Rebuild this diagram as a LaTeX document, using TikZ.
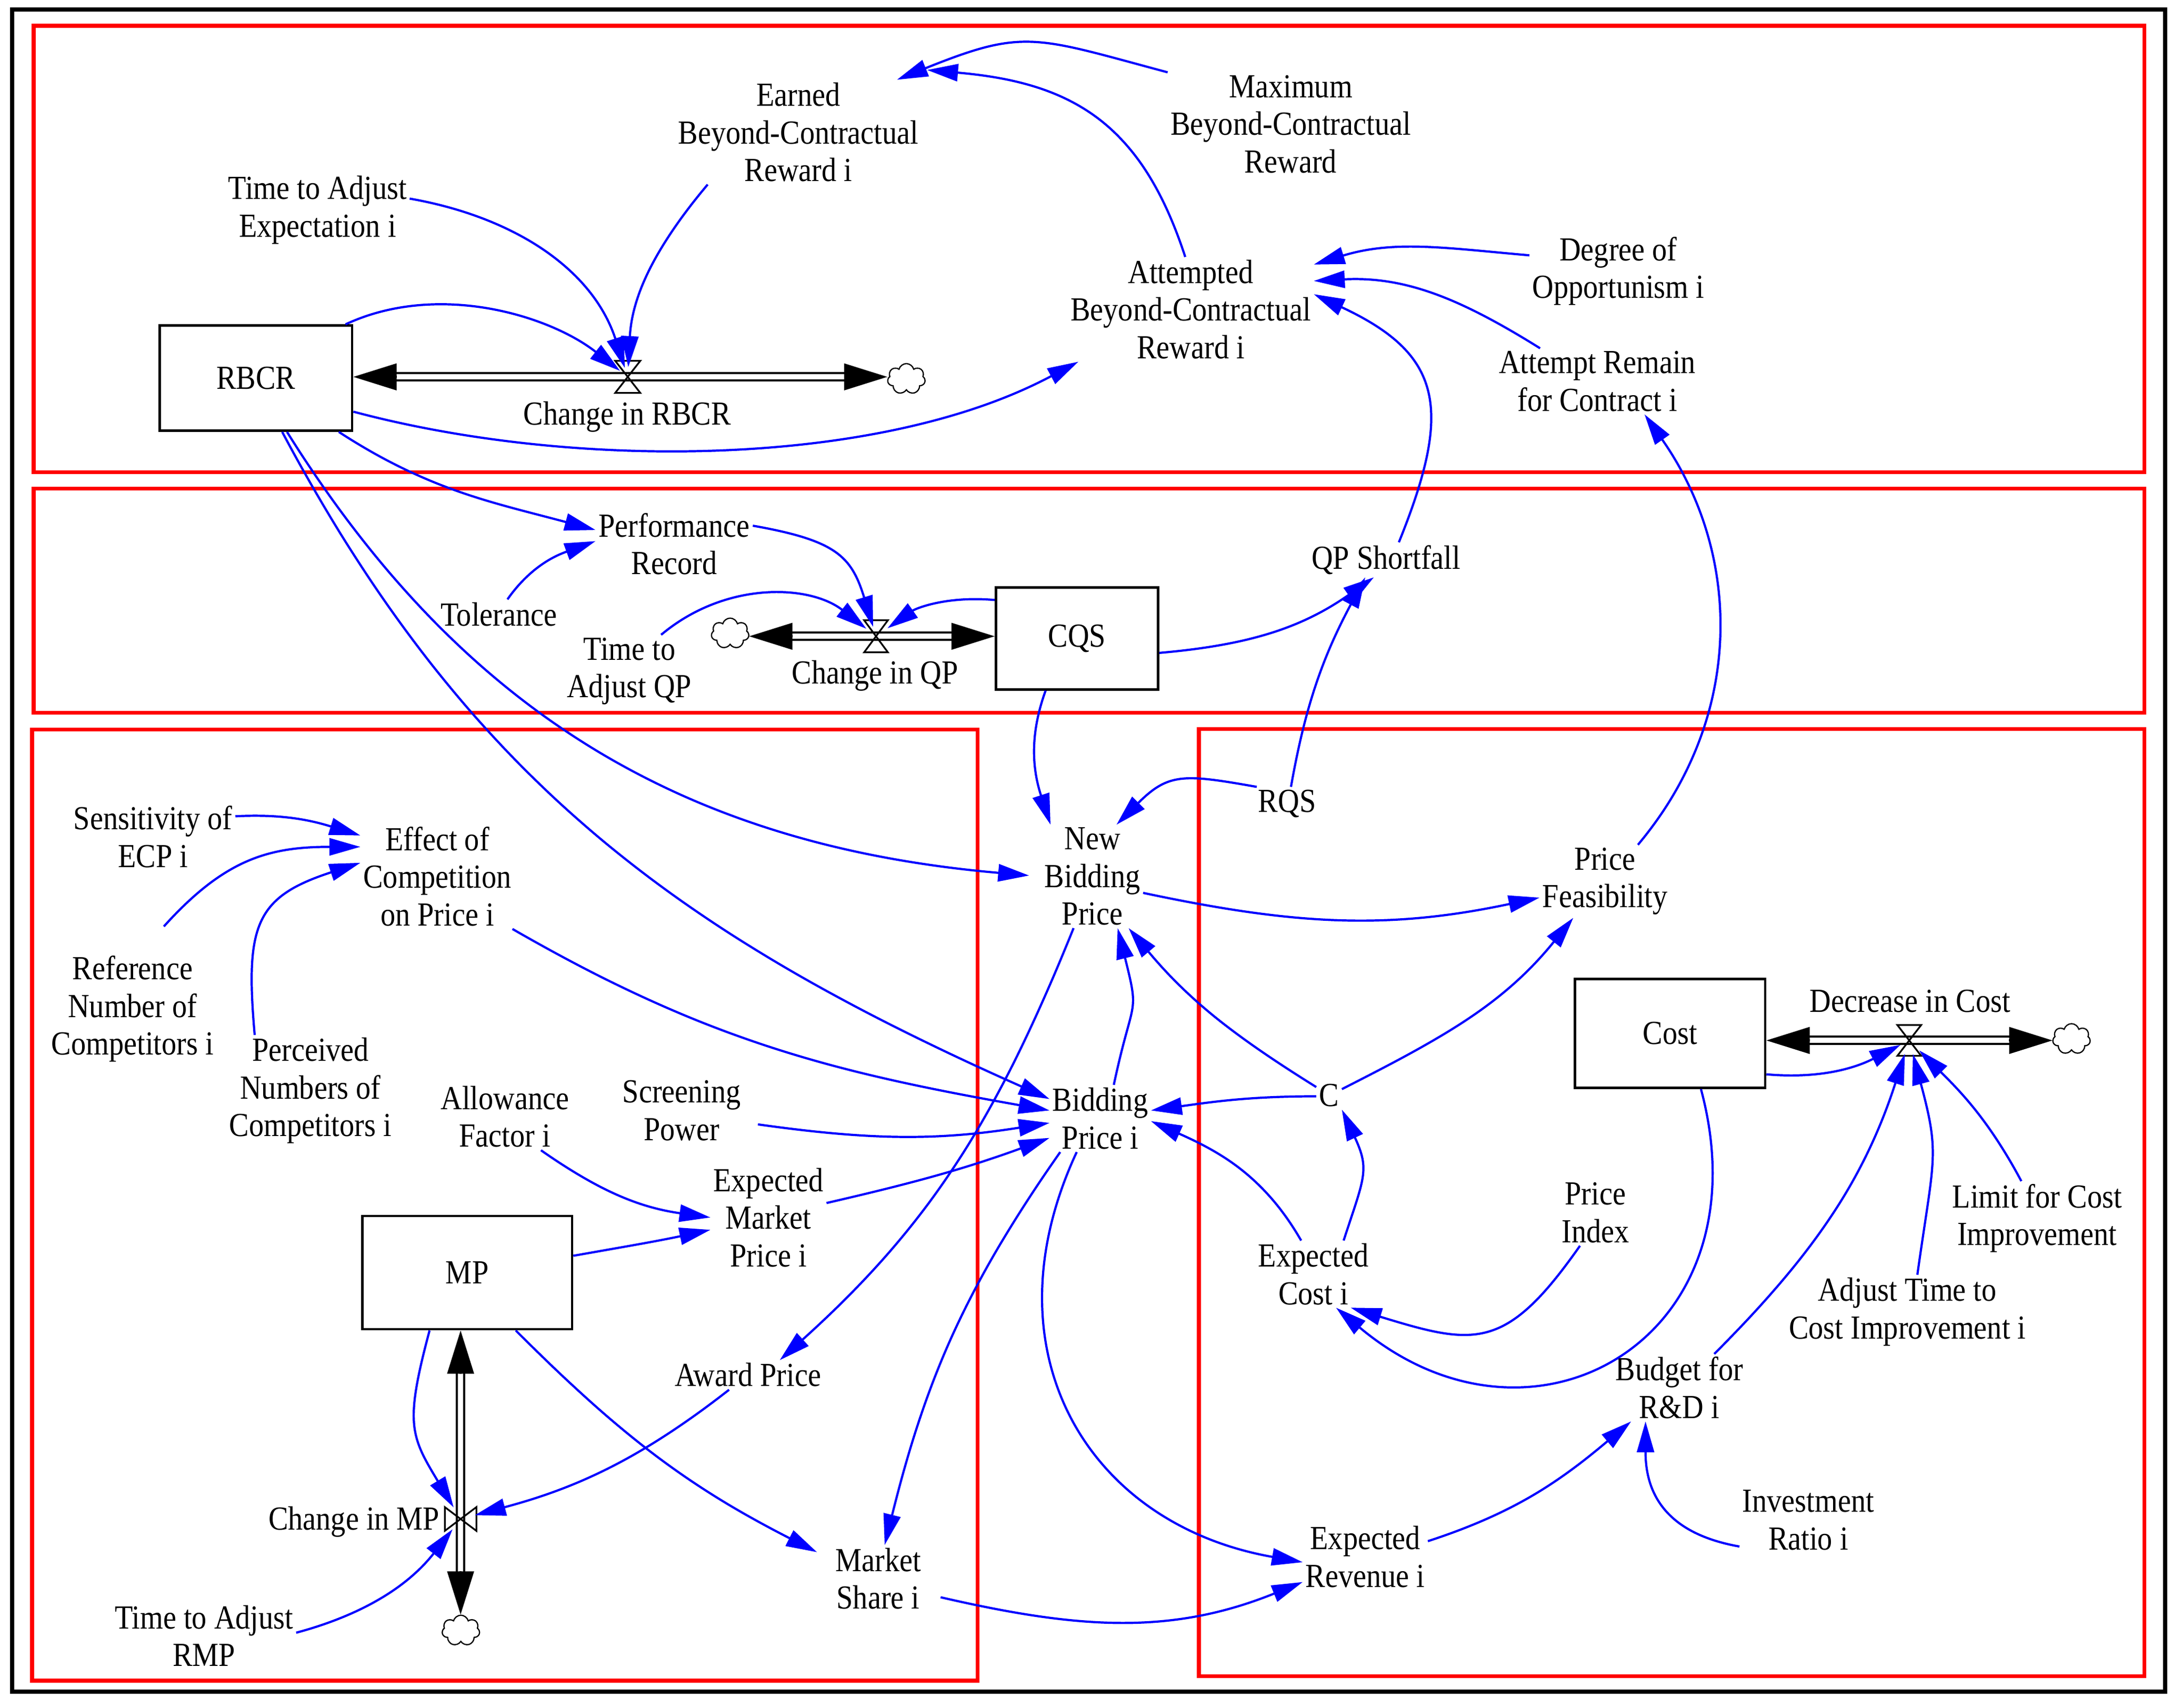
\documentclass[tikz,border=0pt]{standalone}
\usepackage{fontspec}
\setmainfont{Liberation Serif}[FakeStretch=0.88]
\usetikzlibrary{arrows.meta,shapes.symbols,calc}

\begin{document}
\begin{tikzpicture}[x=0.02cm,y=-0.02cm,>={Triangle[length=12.6pt,width=7pt]},
	font=\fontsize{13.7}{15.3}\selectfont,
	var/.style={align=center,inner sep=1pt},
	stock/.style={draw,line width=1pt,inner sep=0pt},
	link/.style={->,blue,line width=0.9pt},
	pipe/.style={line width=0.85pt,double,double distance=2.2pt,shorten <=17pt,shorten >=17pt},
	flowtip/.style={-{Triangle[length=17.6pt,width=10.8pt]},line width=0.85pt},
	valve/.style={inner sep=0pt,outer sep=0pt,minimum width=0.36cm,minimum height=0.46cm},
	valveline/.style={line width=0.7pt},
	sink/.style={cloud,cloud puffs=7,draw,line width=0.5pt,inner sep=0pt,minimum width=0.54cm,minimum height=0.44cm},
	frame/.style={draw=red,line width=1.6pt}]
				\useasboundingbox (0,0) rectangle (1560,1221.2);
				\draw[line width=1.7pt] (8.6,6.7) rectangle (1548,1209.7);
				\draw[frame] (24,18.5) rectangle (1533,337.6);
				\draw[frame] (24,349.3) rectangle (1533,509.6);
				\draw[frame] (23,521.6) rectangle (698.9,1201.8);
				\draw[frame] (857.1,521.3) rectangle (1533,1198.5);

				\node[stock,minimum width=2.75cm,minimum height=1.504cm] (rbcr) at (183,270.4) {RBCR};
				\node[stock,minimum width=2.32cm,minimum height=1.46cm] (cqs) at (770,456.5) {CQS};
				\node[stock,minimum width=3cm,minimum height=1.62cm] (mp) at (334,910) {MP};
				\node[stock,minimum width=2.72cm,minimum height=1.56cm] (cost) at (1194,739) {Cost};

				\node[var] (earned) at (570.8,94.5) {Earned\\Beyond-Contractual\\Reward i};
				\node[var] (tae) at (227,150.1) {Time to Adjust\\Expectation i};
				\node[var] (maxbcr) at (922.8,88.8) {Maximum\\Beyond-Contractual\\Reward};
				\node[var] (abcr) at (851.3,221.2) {Attempted\\Beyond-Contractual\\Reward i};
				\node[var] (doo) at (1157,193.8) {Degree of\\Opportunism i};
				\node[var] (remain) at (1142,272.7) {Attempt Remain\\for Contract i};
				\node[var] (perf) at (482,388.9) {Performance\\Record};
				\node[var] (tol) at (356.7,439.2) {Tolerance};
				\node[var] (taqp) at (450,480) {Time to\\Adjust QP};
				\node[var] (qps) at (991,400.3) {QP Shortfall};
				\node[var] (secp) at (109.4,598.4) {Sensitivity of\\ECP i};
				\node[var] (ecp) at (312.7,626.7) {Effect of\\Competition\\on Price i};
				\node[var] (rnc) at (94.8,721.5) {Reference\\Number of\\Competitors i};
				\node[var] (pnc) at (222,780) {Perceived\\Numbers of\\Competitors i};
				\node[var] (af) at (361,798.5) {Allowance\\Factor i};
				\node[var] (sp) at (487.4,794.2) {Screening\\Power};
				\node[var] (emp) at (549.4,870.6) {Expected\\Market\\Price i};
				\node[var] (ap) at (534.8,983.2) {Award Price};
				\node[var] (tarmp) at (145.9,1169.8) {Time to Adjust\\RMP};
				\node[var] (ms) at (627.8,1128.8) {Market\\Share i};
				\node[var] (nbp) at (781,626.7) {New\\Bidding\\Price};
				\node[var] (rqs) at (920.2,574.7) {RQS};
				\node[var] (bp) at (786.6,799.8) {Bidding\\Price i};
				\node[var] (pf) at (1147.5,630.2) {Price\\Feasibility};
				\node[var] (cc) at (950.2,783.3) {C};
				\node[var] (ec) at (939,911.1) {Expected\\Cost i};
				\node[var] (pidx) at (1140.6,867.2) {Price\\Index};
				\node[var] (brd) at (1200.6,992.3) {Budget for\\R\&D i};
				\node[var] (lci) at (1456.4,871.2) {Limit for Cost\\Improvement};
				\node[var] (atci) at (1363.7,938) {Adjust Time to\\Cost Improvement i};
				\node[var] (ir) at (1292.8,1087) {Investment\\Ratio i};
				\node[var] (er) at (976.1,1113.2) {Expected\\Revenue i};

				\node[valve] (vrbcr) at (448.8,269.5) {};
				\node[sink] (srbcr) at (648,271) {};
				\node[var] (lrbcr) at (448.4,297.9) {Change in RBCR};
				\draw[pipe] (rbcr.east |- vrbcr) -- (srbcr.west |- vrbcr);
				\draw[flowtip] ($(rbcr.east |- vrbcr)+(31,0)$) -- (rbcr.east |- vrbcr);
				\draw[flowtip] ($(srbcr.west |- vrbcr)-(31,0)$) -- (srbcr.west |- vrbcr);
				\draw[valveline] (vrbcr.north west) -- (vrbcr.north east) -- (vrbcr.south west) -- (vrbcr.south east) -- cycle;

				\node[valve,minimum width=0.34cm] (vqp) at (626.3,455) {};
				\node[sink] (sqp) at (522,453) {};
				\node[var] (lqp) at (625.7,483.3) {Change in QP};
				\draw[pipe] (sqp.east |- vqp) -- (cqs.west |- vqp);
				\draw[flowtip] ($(sqp.east |- vqp)+(31,0)$) -- (sqp.east |- vqp);
				\draw[flowtip] ($(cqs.west |- vqp)-(31,0)$) -- (cqs.west |- vqp);
				\draw[valveline] (vqp.north west) -- (vqp.north east) -- (vqp.south west) -- (vqp.south east) -- cycle;

				\node[valve,minimum width=0.452cm,minimum height=0.34cm] (vmp) at (329.3,1086.2) {};
				\node[sink] (smp) at (329.5,1166) {};
				\node[var,anchor=east] (lmp) at (316.4,1088.3) {Change in MP};
				\draw[pipe] (vmp |- mp.south) -- (vmp |- smp.north);
				\draw[flowtip] ($(vmp |- mp.south)+(0,31)$) -- (vmp |- mp.south);
				\draw[flowtip] ($(vmp |- smp.north)-(0,31)$) -- (vmp |- smp.north);
				\draw[valveline] (vmp.north west) -- (vmp.south west) -- (vmp.north east) -- (vmp.south east) -- cycle;

				\node[valve,minimum width=0.34cm,minimum height=0.44cm] (vcost) at (1365,744) {};
				\node[sink] (scost) at (1481,743) {};
				\node[var] (lcost) at (1365.5,715.8) {Decrease in Cost};
				\draw[pipe] (cost.east |- vcost) -- (scost.west |- vcost);
				\draw[flowtip] ($(cost.east |- vcost)+(31,0)$) -- (cost.east |- vcost);
				\draw[flowtip] ($(scost.west |- vcost)-(31,0)$) -- (scost.west |- vcost);
				\draw[valveline] (vcost.north west) -- (vcost.north east) -- (vcost.south west) -- (vcost.south east) -- cycle;

				\draw[link,shorten >=4pt] (rbcr.31) to[out=25,in=142,looseness=0.9] (vrbcr.center);
				\draw[link,shorten >=3.8pt] (tae.7) to[out=-10,in=108] (vrbcr.center);
				\draw[link,shorten >=4pt] (earned.-150) to[out=-130,in=87] (vrbcr.center);
				\draw[link] (maxbcr.north west) to[out=165,in=22,looseness=1.3] (earned.28);
				\draw[link] (abcr.96) to[out=108,in=-5,looseness=1.15] ([shift={(4,-7)}]earned.north east);
				\draw[link] (rbcr.-19) to[out=-15,in=-152,looseness=0.8] (abcr.-155);
				\draw[link] (doo.170) to[out=175,in=17] (abcr.20);
				\draw[link] (remain.150) to[out=148,in=3] (abcr.13);
				\draw[link] (qps.54) to[out=68,in=-25,looseness=1.4] (abcr.7);
				\draw[link] (pf.48) to[out=50,in=-55] (remain.-35);

				\draw[link] (rbcr.-33) to[out=-33,in=165] (perf.170);
				\draw[link] (tol.60) to[out=55,in=-160] (perf.178);
				\draw[link,shorten >=4pt] (perf.13) to[out=-10,in=107,looseness=1.3] (vqp.center);
				\draw[link,shorten >=5.7pt] (cqs.155) to[out=175,in=35] (vqp.center);
				\draw[link,shorten >=5pt] (taqp.49) to[out=40,in=142] (vqp.center);
				\draw[link] (cqs.-10) to[out=5,in=-145] (qps.-125);
				\draw[link] (rqs.77) to[out=80,in=-118] (qps.-140);
				\draw[link] (cqs.-121) to[out=-110,in=108] (nbp.129);

				\draw[link] (rqs.151) to[out=170,in=45,looseness=1.3] (nbp.65);
				\draw[link] (rbcr.-60) to[out=-58,in=175] ([shift={(-9,0)}]nbp.179);
				\draw[link] (rbcr.-64) to[out=-62,in=156] (bp.159);
				\draw[link] (secp.14) to[out=3,in=163] (ecp.152);
				\draw[link] ([shift={(7,-19)}]rnc.69) to[out=48,in=180,looseness=1.1] (ecp.159);
				\draw[link] (pnc.135) to[out=95,in=-162,looseness=1.4] (ecp.170);
				\draw[link] (ecp.-35) to[out=-30,in=170] (bp.171);
				\draw[link] (af.-43) to[out=-35,in=172] (emp.180);
				\draw[link] (mp.9) to[out=10,in=-168] (emp.-168);
				\draw[link] (emp.14) to[out=13,in=-160] (bp.-159);
				\draw[link] ([shift={(10,2)}]sp.-10) to[out=-8,in=-171] (bp.-175);
				\draw[link,shorten >=5.5pt] (mp.-123) to[out=-105,in=121,looseness=1.3] (vmp.center);
				\draw[link,shorten >=6pt] (ap.-142) to[out=-142,in=15] (vmp.center);
				\draw[link,shorten >=5.3pt] (tarmp.2) to[out=15,in=-128] (vmp.center);
				\draw[link] (mp.-50) to[out=-45,in=153] ([shift={(-11,-5)}]ms.157);
				\draw[link] (bp.-140) to[out=-125,in=76] (ms.79);
				\draw[link] ([shift={(12,4)}]ms.-16) to[out=-13,in=-158] (er.-158);
				\draw[link] (bp.-125) to[out=-115,in=170,looseness=1.2] (er.-175);
				\draw[link] (nbp.-110) to[out=-112,in=42] (ap.25);

				\draw[link] (nbp.-18) to[out=-12,in=-168] (pf.-166);
				\draw[link] (bp.68) to[out=78,in=-76,looseness=1.5] (nbp.-64);
				\draw[link] (cc.147) to[out=148,in=-50] (nbp.-55);
				\draw[link] (cc.26) to[out=27,in=-129] (pf.-131);
				\draw[link] (cc.-176) to[out=180,in=8] (bp.9);
				\draw[link] (ec.110) to[out=120,in=-24] (bp.-3);
				\draw[link] (ec.48) to[out=72,in=-65,looseness=1.3] (cc.-48);
				\draw[link] (pidx.-115) to[out=-125,in=-17,looseness=1.4] (ec.-42);
				\draw[link] (cost.-61) to[out=-75,in=-40,looseness=1.55] (ec.-56);
				\draw[link,shorten >=4pt] (cost.-23) to[out=-5,in=-153] (vcost.center);
				\draw[link,shorten >=5.7pt] (brd.44) to[out=45,in=-108] (vcost.center);
				\draw[link,shorten >=5.7pt] (atci.75) to[out=82,in=-75,looseness=1.3] (vcost.center);
				\draw[link,shorten >=5.7pt] (lci.113) to[out=118,in=-45] (vcost.center);
				\draw[link] (ir.-159) to[out=170,in=-90,looseness=1.2] (brd.-135);
				\draw[link] (er.14) to[out=18,in=-140] (brd.-145);
			\end{tikzpicture}
\end{document}
